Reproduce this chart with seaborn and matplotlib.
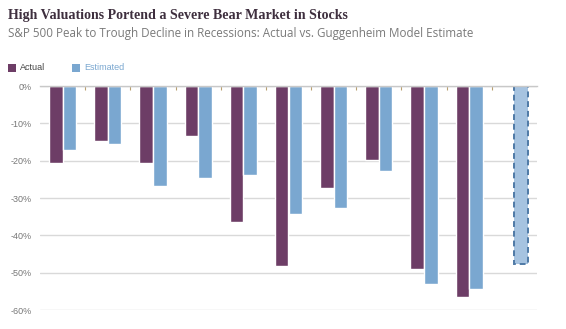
import matplotlib
matplotlib.use("Agg")
import matplotlib.pyplot as plt
import seaborn as sns
import pandas as pd
import numpy as np

groups = [str(i) for i in range(1, 12)]
actual = [-20.6, -14.7, -20.6, -13.5, -36.3, -48.3, -27.2, -19.7, -49.1, -56.6, np.nan]
estimated = [-17.1, -15.6, -26.8, -24.6, -23.9, -34.2, -32.7, -22.7, -53.0, -54.5, -47.6]
yticks = [0, -10, -20, -30, -40, -50, -60]
ytick_labels = ["0%", "-10%", "-20%", "-30%", "-40%", "-50%", "-60%"]
series = ["Actual", "Estimated"]
colors = ["#6d3d66", "#7aa7d0"]

df = pd.DataFrame({
    "group": groups * 2,
    "series": [series[0]] * len(groups) + [series[1]] * len(groups),
    "value": actual + estimated,
})

sns.set_theme(style="white")
plt.rcParams['font.family'] = ['DejaVu Sans']

fig = plt.figure(figsize=(5.66, 3.29), dpi=100)
ax = fig.add_axes([40/566, 1-310/329, 497/566, 224/329])

sns.barplot(data=df, x="group", y="value", hue="series", order=groups,
            hue_order=series, palette=colors, width=0.6, gap=0,
            saturation=1, errorbar=None, legend=False, ax=ax)

# dashed styling for final estimate
last = None
for p in ax.patches:
    if p.get_height() is not None and not np.isnan(p.get_height()):
        x = p.get_x() + p.get_width()/2
        if x > 9.6:
            last = p
if last is not None:
    last.set_facecolor("#a6c3e0")
    last.set_edgecolor("#4f7aa6")
    last.set_linestyle((0, (3, 2)))
    last.set_linewidth(1.4)

ax.set_ylim(-60, 0)
ax.set_xlim(-0.5, 10.5)
ax.set_yticks(yticks)
ax.set_yticklabels(ytick_labels, fontsize=6.5, color="#777777",
                   family="Liberation Sans")
ax.yaxis.grid(True, color="#d9d9d9", linewidth=1)
ax.set_axisbelow(True)
for s in ["left", "right", "bottom"]:
    ax.spines[s].set_visible(False)
ax.spines["top"].set_color("#c8c8c8")
ax.spines["top"].set_linewidth(1)
ax.set_xlabel("")
ax.set_ylabel("")
ax.set_xticks([])
ax.set_xticks(np.arange(0.5, 10.5, 1), minor=True)
ax.tick_params(axis="x", which="minor", top=True, bottom=False, direction="in",
               length=3, color="#b8a070", width=0.8)
ax.tick_params(axis="y", length=0, pad=6)

fig.text(8/566, 1-15/329, "High Valuations Portend a Severe Bear Market in Stocks",
         fontsize=10.1, fontweight="bold", family="Liberation Serif",
         color="#3e2f3e", va="center", ha="left")
fig.text(8/566, 1-33/329, "S&P 500 Peak to Trough Decline in Recessions: Actual vs. Guggenheim Model Estimate",
         fontsize=8.4, family="Open Sans", color="#7a7a7a", va="center", ha="left")

# legend
from matplotlib.patches import Rectangle
fig.patches.append(Rectangle((8/566, 1-72/329), 8/566, 8/329, transform=fig.transFigure,
                             facecolor=colors[0], edgecolor="none"))
fig.text(20/566, 1-68/329, series[0], fontsize=6.5, family="Liberation Sans",
         color="#444444", va="center", ha="left")
fig.patches.append(Rectangle((72/566, 1-72/329), 8/566, 8/329, transform=fig.transFigure,
                             facecolor=colors[1], edgecolor="none"))
fig.text(84/566, 1-68/329, series[1], fontsize=6.5, family="Liberation Sans",
         color="#7aa7d0", va="center", ha="left")

fig.savefig("out.png", dpi=100)
